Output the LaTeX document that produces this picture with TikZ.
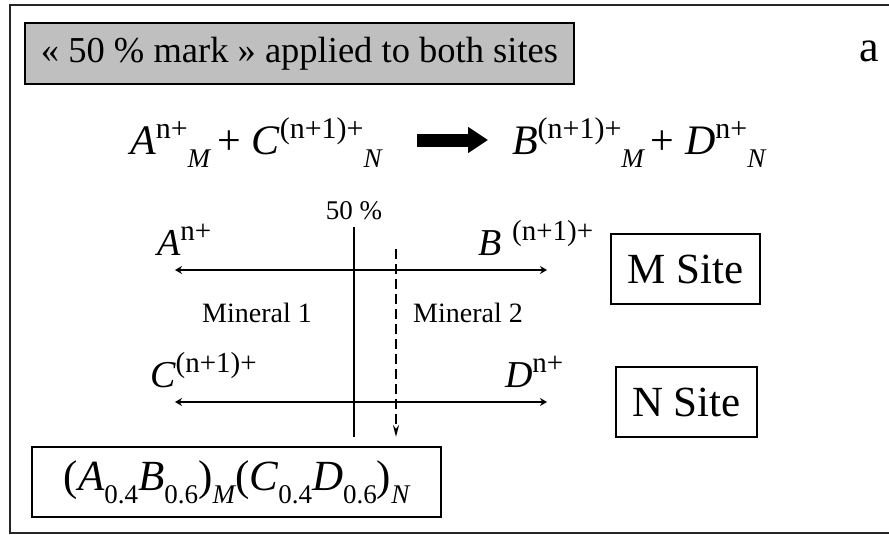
\documentclass[tikz,border=0pt]{standalone}
\usepackage{fontspec}
\setmainfont{Liberation Serif}
\usetikzlibrary{arrows.meta}
\newcommand\fsz[1]{\fontsize{#1}{#1}\selectfont}
\newcommand\supr[1]{\raisebox{0.37em}{\fsz{30}#1}}
\newcommand\supl[1]{\raisebox{0.37em}{\fsz{29}#1}}
\newcommand\subr[1]{\raisebox{-0.31em}{\fsz{27}\itshape #1}}
\newcommand\subn[1]{\raisebox{-0.3em}{\fsz{27}#1}}
\newcommand\subi[1]{\raisebox{-0.3em}{\fsz{27}\itshape #1}}
\tikzset{
  frame/.style={draw=black!85, line width=2pt},
  txt/.style={inner sep=0pt, outer sep=0pt},
  titlebox/.style={draw, line width=2.5pt, fill=black!25, inner sep=0pt, minimum width=549pt, minimum height=61pt, font=\fsz{36.5}},
  sitebox/.style={draw, line width=2.5pt, inner sep=0pt, minimum height=70pt, font=\fsz{43}},
  formbox/.style={draw, line width=2.5pt, inner sep=0pt, minimum width=409pt, minimum height=70pt, font=\fsz{43}},
  siteline/.style={line width=2.8pt, {Stealth[length=7pt,width=8pt]}-{Stealth[length=7pt,width=8pt]}},
  bigarrow/.style={line width=13pt, -{Triangle[length=20pt,width=25pt]}},
  markline/.style={line width=2.2pt},
  dashline/.style={line width=2.2pt, dash pattern=on 10pt off 5pt, -{Stealth[length=12pt,width=6pt]}}
}
\begin{document}
\begin{tikzpicture}[x=1pt,y=-1pt]
\useasboundingbox (0,0) rectangle (889,535);
\clip (0,0) rectangle (889,535);
\draw[frame] (10,5) rectangle (905,533);

\node[titlebox] (title) at (299.5,53.5) {« 50 \% mark » applied to both sites};
\node[txt, anchor=base west, font=\fsz{44}] (lbl) at (859,62) {a};

% equation
\node[txt, anchor=base west, font=\fsz{42}] (lhs) at (130,154)
  {\textit{A}\supr{n+}\subr{M}\,+ \textit{C}\supr{(n+1)+}\subr{N}};
\node[txt, anchor=base west, font=\fsz{42}] (rhs) at (512,154)
  {\textit{B}\supr{(n+1)+}\subr{M}\,+ \textit{D}\supr{n+}\subr{N}};
\coordinate (arS) at (417,140);
\coordinate (arE) at (488,140);
\draw[bigarrow] (arS) -- (arE);

% site lines
\coordinate (mL) at (175,270);
\coordinate (mR) at (547,270);
\coordinate (nL) at (175,402);
\coordinate (nR) at (547,402);
\draw[siteline] (mL) -- (mR);
\draw[siteline] (nL) -- (nR);

% 50% mark
\node[txt, font=\fsz{27}] (fifty) at (354,211) {50 \%};
\coordinate (vT) at (354,227);
\coordinate (vB) at (354,437);
\draw[markline] (vT) -- (vB);
\coordinate (dT) at (396,249);
\coordinate (dB) at (396,437);
\draw[dashline] (dT) -- (dB);

% ion labels
\node[txt, anchor=base west, font=\fsz{38}] (A) at (157,255) {\textit{A}\supl{n+}};
\node[txt, anchor=base west, font=\fsz{38}] (B) at (478,255) {\textit{B}\hspace{11pt}\supl{(n+1)+}};
\node[txt, anchor=base west, font=\fsz{38}] (C) at (150,387) {\textit{C}\supl{(n+1)+}};
\node[txt, anchor=base west, font=\fsz{38}] (D) at (505,387) {\textit{D}\supl{n+}};

\node[txt, font=\fsz{28}] (min1) at (257,313) {Mineral 1};
\node[txt, font=\fsz{28}] (min2) at (468,313) {Mineral 2};

\node[sitebox, minimum width=149pt] (msite) at (685.5,269) {M Site};
\node[sitebox, minimum width=141pt] (nsite) at (686.5,402) {N Site};

\node[formbox] (form) at (236.5,482)
  {(\textit{A}\subn{0.4}\textit{B}\subn{0.6})\subi{M}(\textit{C}\subn{0.4}\textit{D}\subn{0.6})\subi{N}};
\end{tikzpicture}
\end{document}
